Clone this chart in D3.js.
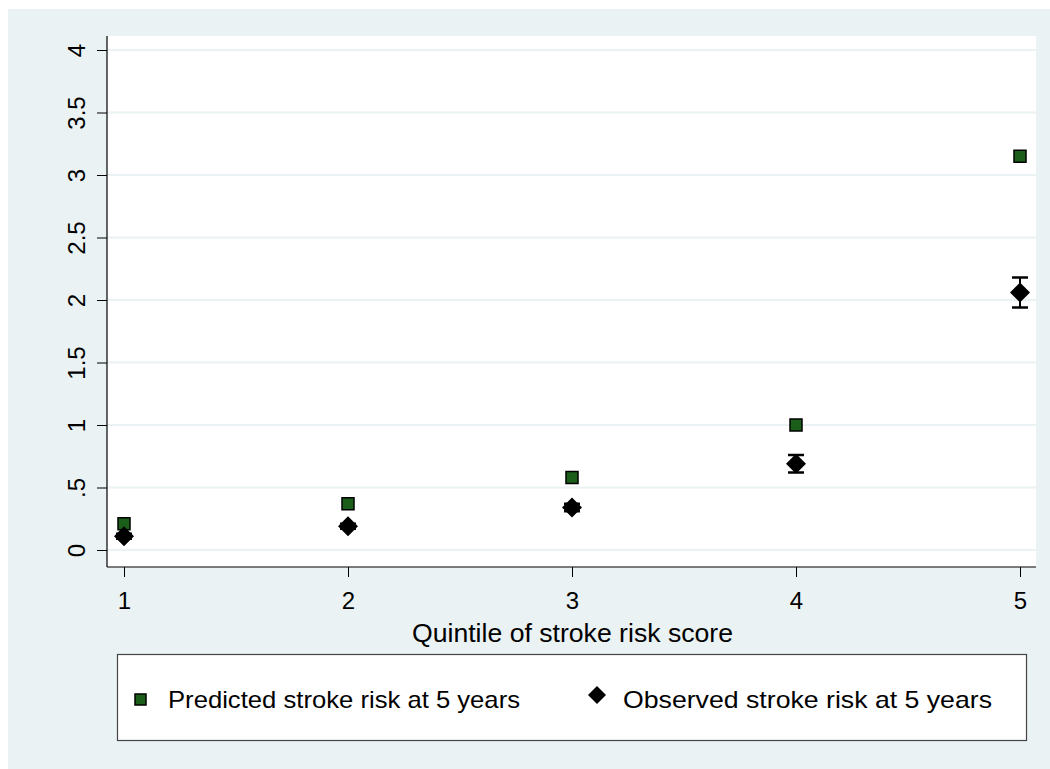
<!DOCTYPE html>
<html><head><meta charset="utf-8">
<script src="https://cdn.jsdelivr.net/npm/d3@7"></script>
<style>body{margin:0;background:#fff}svg{display:block;font-family:"Liberation Sans",Arial,sans-serif}</style>
</head><body><svg id="c" width="1050" height="769"></svg>
<script>
const quintiles = [1, 2, 3, 4, 5];
const predicted = [0.21, 0.37, 0.58, 1.0, 3.15];
const observed = [0.11, 0.19, 0.34, 0.69, 2.06];
const obsLow = [0.09, 0.17, 0.31, 0.62, 1.94];
const obsHigh = [0.13, 0.21, 0.37, 0.76, 2.18];
const yTicks = [0, 0.5, 1, 1.5, 2, 2.5, 3, 3.5, 4];
const yTickLabels = ["0", ".5", "1", "1.5", "2", "2.5", "3", "3.5", "4"];
const xLabel = "Quintile of stroke risk score";
const legendLabels = ["Predicted stroke risk at 5 years", "Observed stroke risk at 5 years"];

const svg = d3.select("#c");
svg.append("rect").attr("x", 8).attr("y", 9).attr("width", 1042).attr("height", 760).attr("fill", "#eaf2f3");
const L = 107, R = 1036, T = 36, B = 567;
svg.append("rect").attr("x", L).attr("y", T).attr("width", R - L).attr("height", B - T).attr("fill", "#fff");

const x = d3.scaleLinear().domain([1, 5]).range([124, 1020]);
const y = d3.scaleLinear().domain([0, 4]).range([550, 50]);

// grid
svg.append("g").selectAll("line").data(yTicks).join("line")
  .attr("x1", L).attr("x2", R).attr("y1", d => y(d)).attr("y2", d => y(d))
  .attr("stroke", "#eaf2f3").attr("stroke-width", 2);

// y axis
const ya = svg.append("g").attr("transform", `translate(${L},0)`)
  .call(d3.axisLeft(y).tickValues(yTicks).tickFormat((d, i) => yTickLabels[i]).tickSize(10).tickSizeOuter(0));
ya.select(".domain").remove();
ya.attr("font-size", null).attr("font-family", null);
svg.append("line").attr("x1", L).attr("x2", L).attr("y1", T).attr("y2", B).attr("stroke", "#000").attr("stroke-width", 1.2);
ya.selectAll(".tick line").attr("stroke", "#000");
ya.selectAll(".tick text").style("font-size", "24px").attr("fill", "#000")
  .attr("x", 0).attr("y", 0).attr("dy", 0)
  .attr("text-anchor", "middle")
  .attr("transform", "translate(-22,0) rotate(-90)");

// x axis
const xa = svg.append("g").attr("transform", `translate(0,${B})`)
  .call(d3.axisBottom(x).tickValues(quintiles).tickFormat(d3.format("d")).tickSize(10).tickSizeOuter(0));
xa.select(".domain").remove();
xa.attr("font-size", null).attr("font-family", null);
svg.append("line").attr("x1", L).attr("x2", R).attr("y1", B).attr("y2", B).attr("stroke", "#000").attr("stroke-width", 1.2);
xa.selectAll(".tick line").attr("stroke", "#000");
xa.selectAll(".tick text").style("font-size", "24px").attr("fill", "#000").attr("y", 25).attr("dy", "0.71em");

svg.append("text").attr("x", 412).attr("y", 642)
  .style("font-size", "25px").attr("textLength", 321).attr("lengthAdjust", "spacingAndGlyphs").text(xLabel);

// error bars
const eb = svg.append("g");
quintiles.forEach((q, i) => {
  const cx = x(q);
  eb.append("line").attr("x1", cx).attr("x2", cx).attr("y1", y(obsLow[i])).attr("y2", y(obsHigh[i])).attr("stroke", "#000").attr("stroke-width", 2);
  [obsLow[i], obsHigh[i]].forEach(v => eb.append("line").attr("x1", cx - 8).attr("x2", cx + 8).attr("y1", y(v)).attr("y2", y(v)).attr("stroke", "#000").attr("stroke-width", 2.5));
});

const diamond = (cx, cy, r) => `M${cx},${cy - r}L${cx + r},${cy}L${cx},${cy + r}L${cx - r},${cy}Z`;

// predicted squares
svg.append("g").selectAll("rect").data(quintiles).join("rect")
  .attr("x", d => x(d) - 6).attr("y", (d, i) => y(predicted[i]) - 6)
  .attr("width", 12).attr("height", 12).attr("fill", "#1a5e1a").attr("stroke", "#000").attr("stroke-width", 1.5);

// observed diamonds
svg.append("g").selectAll("path").data(quintiles).join("path")
  .attr("d", (d, i) => diamond(x(d), y(observed[i]), 10)).attr("fill", "#000");

// legend
svg.append("rect").attr("x", 117.5).attr("y", 654.5).attr("width", 909).attr("height", 86)
  .attr("fill", "#fff").attr("stroke", "#444").attr("stroke-width", 1.2);
svg.append("rect").attr("x", 135).attr("y", 694).attr("width", 11).attr("height", 11)
  .attr("fill", "#1a5e1a").attr("stroke", "#000").attr("stroke-width", 1.5);
svg.append("text").attr("x", 168).attr("y", 708).style("font-size", "24px")
  .attr("textLength", 352).attr("lengthAdjust", "spacingAndGlyphs").text(legendLabels[0]);
svg.append("path").attr("d", diamond(597, 695, 9)).attr("fill", "#000");
svg.append("text").attr("x", 623).attr("y", 708).style("font-size", "24px")
  .attr("textLength", 369).attr("lengthAdjust", "spacingAndGlyphs").text(legendLabels[1]);
</script></body></html>
